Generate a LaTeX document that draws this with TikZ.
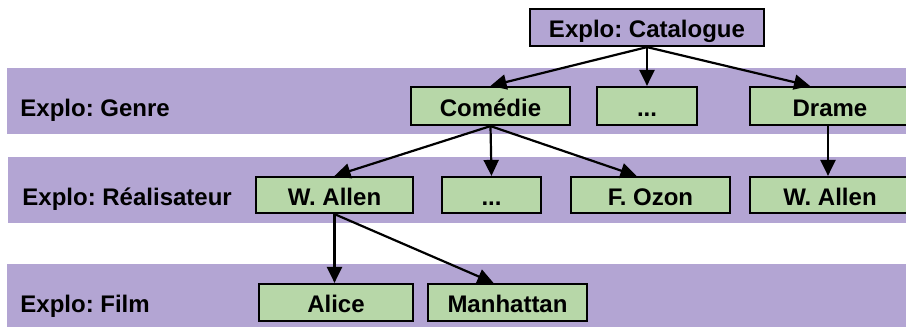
\documentclass[tikz,border=0pt]{standalone}
\usepackage{fontspec}
\setmainfont{Liberation Sans}
\usetikzlibrary{arrows.meta}
\definecolor{bandpurple}{RGB}{179,165,211}
\definecolor{boxgreen}{RGB}{183,215,168}
\frenchspacing
\tikzset{
  band/.style={fill=bandpurple, draw=none},
  gbox/.style={draw=black, line width=1.1pt, fill=boxgreen, inner sep=0pt,
    text height=10pt, text depth=0pt,
    font=\fontsize{12}{14}\selectfont\bfseries, minimum height=18.5pt, anchor=center},
  pbox/.style={gbox, fill=bandpurple},
  lab/.style={anchor=west, inner sep=0pt, text height=10pt, text depth=0pt,
    font=\fontsize{12}{14}\selectfont\bfseries},
  arr/.style={line width=1.1pt, -{Triangle[length=8pt,width=7.5pt]}}
}
\begin{document}
\begin{tikzpicture}[x=0.5pt,y=-0.5pt]
\useasboundingbox (0,0) rectangle (906,327);
\clip (0,0) rectangle (906,327);
% bands
\fill[band] (7,68) rectangle (912,134);
\fill[band] (8,157) rectangle (912,223);
\fill[band] (7,264) rectangle (912,330);
% labels
\node[lab] (lg) at (20,106) {Explo: Genre};
\node[lab] (lr) at (22,195) {Explo: Réalisateur};
\node[lab] (lf) at (20,302.5) {Explo: Film};
% boxes
\node[pbox, minimum width=117pt] (cat) at (647,27.5) {Explo: Catalogue};
\node[gbox, minimum width=79.5pt, minimum height=19pt] (com) at (490.5,106) {Comédie};
\node[gbox, minimum width=50pt, minimum height=19pt] (gdots) at (647,106) {...};
\node[gbox, minimum width=80pt, minimum height=19pt] (dra) at (830,106) {Drame};
\node[gbox, minimum width=78.5pt, minimum height=18pt] (wa1) at (334.5,195) {W. Allen};
\node[gbox, minimum width=49.5pt, minimum height=18pt] (rdots) at (491.5,195) {...};
\node[gbox, minimum width=79.5pt, minimum height=18pt] (oz) at (650.5,195) {F. Ozon};
\node[gbox, minimum width=80pt, minimum height=18pt] (wa2) at (830,195) {W. Allen};
\node[gbox, minimum width=77pt] (alice) at (336,302.5) {Alice};
\node[gbox, minimum width=79.5pt] (man) at (507.5,302.5) {Manhattan};
% connectors
\draw[arr] (cat.south) -- (com.north);
\draw[arr] (cat.south) -- (gdots.north);
\draw[arr] (cat.south) -- ([xshift=-10]dra.north);
\draw[arr] (com.south) -- (wa1.north);
\draw[arr] (com.south) -- (rdots.north);
\draw[arr] (com.south) -- ([xshift=-7]oz.north);
\draw[arr] ([xshift=-1]dra.south) -- ([xshift=-1]wa2.north);
\draw[arr] (wa1.south) -- (wa1.south |- alice.north);
\draw[arr] (wa1.south) -- ([xshift=-7]man.north);
\end{tikzpicture}
\end{document}
